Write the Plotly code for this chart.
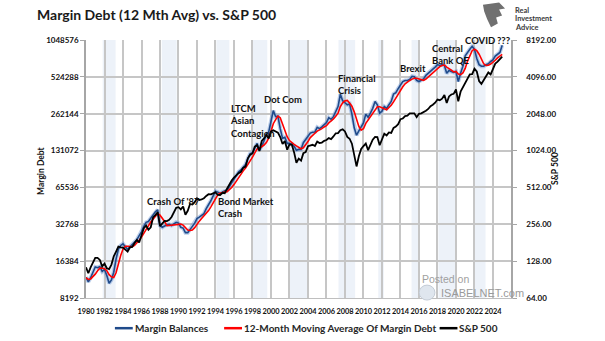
import plotly.graph_objects as go
import math

# ---------------- data (quarterly, decimal years) ----------------
start_year = 1980.0
margin_balances = [
    12100, 11100, 12000, 13500,   # 1980
    14700, 14500, 14800, 13500,   # 1981
    14000, 12500, 10800, 11500,   # 1982
    13300, 17000, 20500, 22000,   # 1983
    22700, 21500, 20500, 21500,   # 1984
    22500, 23500, 24500, 26500,   # 1985
    28400, 31500, 34000, 34500,   # 1986
    36800, 39000, 41500, 43000,   # 1987
    32000, 31000, 32000, 32500,   # 1988
    32700, 32000, 33000, 34000,   # 1989
    33500, 31000, 30500, 28000,   # 1990
    28000, 30000, 31500, 33500,   # 1991
    36500, 37500, 38500, 40000,   # 1992
    44000, 47000, 51000, 56000,   # 1993
    61000, 60000, 58500, 60000,   # 1994
    61500, 62000, 66000, 72000,   # 1995
    76500, 82000, 88000, 91000,   # 1996
    97000, 101000, 113000, 124000,  # 1997
    126000, 140000, 150000, 132000,  # 1998
    142000, 158000, 178000, 185000,  # 1999
    228000, 278000, 248000, 250000,  # 2000
    198000, 165000, 168000, 150000,  # 2001
    150000, 148000, 142000, 132000,  # 2002
    134000, 134000, 152000, 162000,  # 2003
    173000, 182000, 185000, 186000,  # 2004
    203000, 198000, 205000, 212000,  # 2005
    222000, 243000, 236000, 248000,  # 2006
    275000, 300000, 378000, 335000,  # 2007
    322000, 310000, 315000, 260000,  # 2008
    201000, 175000, 190000, 205000,  # 2009
    220000, 260000, 245000, 265000,  # 2010
    290000, 330000, 310000, 265000,  # 2011
    275000, 300000, 290000, 310000,  # 2012
    330000, 380000, 390000, 420000,  # 2013
    450000, 480000, 490000, 490000,  # 2014
    500000, 530000, 525000, 490000,  # 2015
    480000, 490000, 505000, 540000,  # 2016
    560000, 580000, 600000, 630000,  # 2017
    660000, 650000, 660000, 650000,  # 2018
    560000, 590000, 580000, 570000,  # 2019
    580000, 480000, 560000, 640000,  # 2020
    780000, 840000, 880000, 930000,  # 2021
    880000, 740000, 660000, 640000,  # 2022
    640000, 660000, 670000, 700000,  # 2023
    720000, 775000, 800000, 830000,  # 2024
    950000,                          # 2025
]
margin_ma12 = [
    12000, 11600, 11730, 12175,
    12825, 13675, 14375, 14375,
    14200, 13700, 12700, 12200,
    12025, 13150, 15575, 18200,
    20550, 21675, 21675, 21550,
    21500, 22000, 23000, 24250,
    25725, 27725, 30100, 32100,
    34200, 36075, 37950, 40075,
    38875, 36875, 34500, 31875,
    32050, 32300, 32550, 32925,
    33125, 32875, 32250, 30750,
    29375, 29125, 29375, 30750,
    32875, 34750, 36500, 38125,
    40000, 42375, 45500, 49500,
    53750, 57000, 58875, 59875,
    60000, 60500, 62375, 65375,
    69125, 74125, 79625, 84375,
    89500, 94250, 100500, 108750,
    116000, 125750, 135000, 137000,
    141000, 145500, 152500, 165750,
    187250, 217250, 234750, 251000,
    243500, 215250, 195250, 170250,
    158250, 154000, 147500, 143000,
    139000, 135500, 138000, 145500,
    155250, 167250, 175500, 181500,
    189000, 193000, 198000, 204500,
    209250, 220500, 228250, 237250,
    250500, 264750, 300250, 322000,
    333750, 336250, 320500, 301750,
    271500, 237750, 206500, 192750,
    197500, 218750, 232500, 247500,
    265000, 282500, 298750, 298750,
    295000, 287500, 282500, 293750,
    307500, 327500, 352500, 380000,
    410000, 435000, 460000, 477500,
    490000, 502500, 511250, 511250,
    506250, 496250, 491250, 503750,
    523750, 546250, 570000, 592500,
    617500, 635000, 650000, 655000,
    630000, 615000, 595000, 575000,
    580000, 552500, 547500, 565000,
    615000, 705000, 785000, 857500,
    882500, 857500, 802500, 730000,
    670000, 650000, 652500, 667500,
    687500, 716250, 748750, 781250,
    800000,
]
sp500 = [
    114, 102, 114, 125,
    136, 136, 131, 116,
    122, 112, 110, 120,
    140, 153, 168, 166,
    165, 159, 153, 166,
    167, 180, 191, 182,
    211, 238, 250, 231,
    242, 291, 304, 321,
    247, 259, 273, 272,
    278, 294, 317, 349,
    353, 339, 358, 306,
    330, 375, 371, 388,
    417, 404, 408, 418,
    436, 451, 450, 459,
    466, 446, 444, 463,
    459, 500, 545, 584,
    616, 645, 670, 687,
    741, 757, 885, 947,
    970, 1102, 1134, 1017,
    1229, 1286, 1373, 1283,
    1469, 1499, 1455, 1436,
    1320, 1160, 1224, 1041,
    1148, 1147, 990, 815,
    880, 848, 975, 996,
    1112, 1126, 1141, 1115,
    1212, 1181, 1191, 1229,
    1248, 1295, 1270, 1336,
    1418, 1421, 1503, 1527,
    1468, 1323, 1280, 1166,
    903, 760, 919, 1057,
    1115, 1169, 1031, 1141,
    1258, 1326, 1321, 1131,
    1258, 1408, 1362, 1441,
    1426, 1569, 1606, 1682,
    1848, 1872, 1960, 1972,
    2059, 2068, 2063, 1920,
    2044, 2060, 2099, 2168,
    2239, 2363, 2423, 2519,
    2674, 2641, 2718, 2914,
    2507, 2834, 2942, 2977,
    3231, 2585, 3100, 3363,
    3756, 3973, 4298, 4308,
    4766, 4530, 3785, 3586,
    3840, 4109, 4450, 4288,
    4770, 5254, 5460, 5762,
    5990,
]
dates = [start_year + 0.25 * i for i in range(len(sp500))]

year_ticks = list(range(1980, 2025, 2))
left_ticks = [8192, 16384, 32768, 65536, 131072, 262144, 524288, 1048576]
right_ticks = [64, 128, 256, 512, 1024, 2048, 4096, 8192]

band_start = [1981.8, 1988.2, 1994.1, 1998.0, 2001.9, 2007.3, 2011.6, 2015.2, 2018.1, 2022.0]
band_end = [1983.2, 1989.8, 1995.5, 1999.6, 2003.9, 2009.1, 2012.2, 2015.9, 2019.9, 2023.2]

# event labels (paper positions: left edge, top of text block)
events = ["Crash Of '87", "Bond Market<br>Crash", "LTCM<br>Asian<br>Contagion", "Dot Com",
          "Financial<br>Crisis", "Brexit", "Central<br>Bank QE", "COVID", "???"]
event_px = [0.138, 0.307, 0.333, 0.413, 0.588, 0.733, 0.809, 0.886, 0.963]
event_py = [0.405, 0.405, 0.765, 0.800, 0.880, 0.918, 0.995, 1.028, 1.028]

# ---------------- figure ----------------
FONT = "Lato"
fig = go.Figure()

fig.add_trace(go.Scatter(x=dates, y=margin_balances, mode="lines", name="Margin Balances glow",
                         line=dict(color="rgba(110,150,210,0.45)", width=4), showlegend=False,
                         hoverinfo="skip"))
fig.add_trace(go.Scatter(x=dates, y=margin_balances, mode="lines", name="Margin Balances",
                         line=dict(color="#1F4A8A", width=1.6)))
fig.add_trace(go.Scatter(x=dates, y=margin_ma12, mode="lines",
                         name="12-Month Moving Average Of Margin Debt",
                         line=dict(color="#FF0000", width=1.6)))
fig.add_trace(go.Scatter(x=dates, y=sp500, mode="lines", name="S&P 500", yaxis="y2",
                         line=dict(color="#000000", width=1.8)))

shapes = []
for s, e in zip(band_start, band_end):
    shapes.append(dict(type="rect", xref="x", yref="paper", x0=s, x1=e, y0=0, y1=1,
                       fillcolor="#EDF2F9", line=dict(width=0), layer="below"))

annotations = []
# custom legend
legend_items = [("Margin Balances", "#1F4A8A", 0.068), ("12-Month Moving Average Of Margin Debt", "#FF0000", 0.325),
                ("S&P 500", "#000000", 0.832)]
for name, col, xp in legend_items:
    shapes.append(dict(type="line", xref="paper", yref="paper", x0=xp, x1=xp + 0.042,
                       y0=-0.117, y1=-0.117, line=dict(color=col, width=2.5)))
    annotations.append(dict(text=name, xref="paper", yref="paper", x=xp + 0.042, y=-0.117,
                            xanchor="left", yanchor="middle", showarrow=False,
                            font=dict(family=FONT, size=10, color="#262626", weight="bold")))

for t, xp, yp in zip(events, event_px, event_py):
    annotations.append(dict(text=t, x=xp, y=yp, xref="paper", yref="paper", xanchor="left",
                            yanchor="top", align="left", showarrow=False,
                            font=dict(family=FONT, size=9.5, color="#111111", weight="bold")))

# title
annotations.append(dict(text="Margin Debt (12 Mth Avg) vs. S&P 500", xref="paper", yref="paper",
                        x=-0.12, y=1.097, xanchor="left", yanchor="middle", showarrow=False,
                        font=dict(family=FONT, size=14, color="#1a1a1a", weight="bold")))
# axis titles
annotations.append(dict(text="Margin Debt", xref="paper", yref="paper", x=-0.106, y=0.496,
                        textangle=-90, showarrow=False, xanchor="center", yanchor="middle",
                        font=dict(family=FONT, size=8.5, color="#111111", weight="bold")))
annotations.append(dict(text="S&P 500", xref="paper", yref="paper", x=1.1035, y=0.504,
                        textangle=-90, showarrow=False, xanchor="center", yanchor="middle",
                        font=dict(family=FONT, size=8.5, color="#111111", weight="bold")))
# logo text
for txt, yp in zip(["Real", "Investment", "Advice"], [1.116, 1.082, 1.048]):
    annotations.append(dict(text=txt, xref="paper", yref="paper", x=1.005, y=yp,
                            xanchor="left", yanchor="middle", showarrow=False,
                            font=dict(family=FONT, size=7.4, color="#3a3a3a", weight="bold")))
# logo emblem (decorative)
shapes.append(dict(type="path", xref="paper", yref="paper",
                   path="M 0.934,1.137 L 0.972,1.145 L 0.986,1.122 L 0.972,1.118 L 0.979,1.095 "
                        "L 0.965,1.087 L 0.969,1.064 L 0.953,1.049 L 0.944,1.080 L 0.937,1.110 Z",
                   fillcolor="#707070", line=dict(width=0)))
# watermark
shapes.append(dict(type="circle", xref="paper", yref="paper", x0=0.784, x1=0.821, y0=-0.008, y1=0.05,
                   fillcolor="#dfe6ee", line=dict(color="#c4ccd6", width=1)))
annotations.append(dict(text="Posted on", xref="paper", yref="paper", x=0.785, y=0.075,
                        xanchor="left", yanchor="middle", showarrow=False,
                        font=dict(family="Liberation Sans", size=10.5, color="#a0a0a0")))
annotations.append(dict(text="ISABELNET.com", xref="paper", yref="paper", x=0.83, y=0.02,
                        xanchor="left", yanchor="middle", showarrow=False,
                        font=dict(family="Liberation Sans", size=11, color="#9a9a9a")))

fig.update_layout(
    width=605, height=341,
    margin=dict(l=86, r=94, t=40, b=43),
    paper_bgcolor="white", plot_bgcolor="white",
    showlegend=False,
    shapes=shapes, annotations=annotations,
    xaxis=dict(range=[1980, 2025.95], tickvals=year_ticks, ticktext=[str(y) for y in year_ticks],
               showgrid=True, gridcolor="#C6C6C6", gridwidth=2, zeroline=False,
               showline=True, linecolor="#BFBFBF", linewidth=1,
               ticks="outside", ticklen=6, tickcolor="rgba(0,0,0,0)",
               tickfont=dict(family=FONT, size=7.4, color="#111111", weight="bold"), tickangle=0),
    yaxis=dict(type="log", range=[math.log10(8192), math.log10(1048576)], tickvals=left_ticks,
               ticktext=[str(v) for v in left_ticks], showgrid=True, gridcolor="#C6C6C6", gridwidth=1.5,
               showline=True, linecolor="#A6A6A6", linewidth=1.5, ticks="outside", ticklen=4,
               tickcolor="#A6A6A6", zeroline=False,
               tickfont=dict(family=FONT, size=8, color="#111111", weight="bold")),
    yaxis2=dict(type="log", overlaying="y", side="right",
                range=[math.log10(64), math.log10(8192)], tickvals=right_ticks,
                ticktext=["%.2f" % v for v in right_ticks], showgrid=False,
                showline=True, linecolor="#A6A6A6", linewidth=1.5, ticks="outside", ticklen=4,
                tickcolor="#A6A6A6", zeroline=False, ticklabelstandoff=8,
                tickfont=dict(family=FONT, size=8, color="#111111", weight="bold")),
)

fig.write_html("out.html")
